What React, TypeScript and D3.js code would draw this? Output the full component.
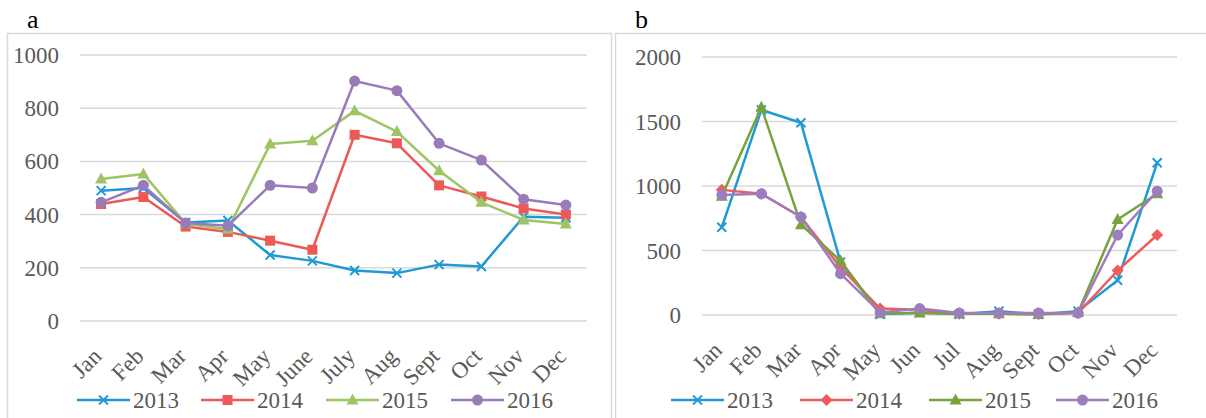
import React from 'react';
import * as d3 from 'd3';

const monthsA = ['Jan', 'Feb', 'Mar', 'Apr', 'May', 'June', 'July', 'Aug', 'Sept', 'Oct', 'Nov', 'Dec'];
const monthsB = ['Jan', 'Feb', 'Mar', 'Apr', 'May', 'Jun', 'Jul', 'Aug', 'Sept', 'Oct', 'Nov', 'Dec'];
const years = ['2013', '2014', '2015', '2016'];

const a2013 = [490, 500, 370, 378, 248, 226, 190, 180, 212, 205, 392, 388];
const a2014 = [440, 466, 355, 335, 302, 268, 700, 668, 510, 468, 423, 400];
const a2015 = [534, 553, 366, 345, 665, 678, 790, 712, 565, 446, 380, 365];
const a2016 = [446, 510, 368, 358, 510, 500, 902, 866, 668, 605, 458, 436];

const b2013 = [680, 1590, 1490, 410, 5, 20, 5, 30, 5, 30, 270, 1180];
const b2014 = [970, 940, 760, 370, 50, 40, 10, 10, 5, 15, 345, 620];
const b2015 = [920, 1610, 700, 420, 10, 15, 10, 10, 5, 20, 740, 940];
const b2016 = [930, 940, 760, 320, 20, 50, 15, 15, 15, 15, 620, 960];

const ticksA = [0, 200, 400, 600, 800, 1000];
const ticksB = [0, 500, 1000, 1500, 2000];

const colorsA = ['#1f9ad2', '#ec5a57', '#9dc564', '#9a7bba'];
const colorsB = ['#1f9ad2', '#ef5d5b', '#79a23f', '#9d7dbd'];

const font = '"Liberation Serif", "Times New Roman", serif';

type Shape = 'x' | 'square' | 'diamond' | 'triangle' | 'circle';

const Marker = ({ shape, x, y, color }: { shape: Shape; x: number; y: number; color: string }) => {
  if (shape === 'x') {
    const s = 4.5;
    return (
      <path d={`M${x - s},${y - s}L${x + s},${y + s}M${x - s},${y + s}L${x + s},${y - s}`}
        stroke={color} strokeWidth={2} fill="none" />
    );
  }
  if (shape === 'square') return <rect x={x - 5} y={y - 5} width={10} height={10} fill={color} />;
  if (shape === 'diamond') return <path d={`M${x},${y - 6}L${x + 6},${y}L${x},${y + 6}L${x - 6},${y}Z`} fill={color} />;
  if (shape === 'triangle') return <path d={`M${x},${y - 6.5}L${x + 6},${y + 4.5}L${x - 6},${y + 4.5}Z`} fill={color} />;
  return <circle cx={x} cy={y} r={5.5} fill={color} />;
};

type PanelProps = {
  left: number;
  label: string;
  months: string[];
  series: number[][];
  colors: string[];
  shapes: Shape[];
  ticks: number[];
  x0: number;
  x1: number;
  yTop: number;
  yBottom: number;
  legendX: number[];
};

const Panel = ({ left, label, months, series, colors, shapes, ticks, x0, x1, yTop, yBottom, legendX }: PanelProps) => {
  const x = d3.scalePoint<string>().domain(months).range([x0, x1]).padding(0.5);
  const y = d3.scaleLinear().domain([0, d3.max(ticks) as number]).range([yBottom, yTop]);
  const line = d3.line<number>().x((_, i) => x(months[i]) as number).y(d => y(d));

  return (
    <g>
      <text x={left + 20} y={28} fontFamily={font} fontSize={26} fill="#000">{label}</text>
      {ticks.map(t => (
        <g key={t}>
          <line x1={x0} x2={x1} y1={y(t)} y2={y(t)} stroke="#d9d9d9" strokeWidth={1.5} />
          <text x={x0 - 21} y={y(t)} dy="0.35em" textAnchor="end" fontFamily={font} fontSize={23} fill="#595959">{t}</text>
        </g>
      ))}
      {months.map(m => (
        <text key={m} transform={`translate(${(x(m) as number) - 4},${yBottom + 31}) rotate(-45)`}
          textAnchor="end" dy="0.35em" fontFamily={font} fontSize={23} fill="#595959">{m}</text>
      ))}
      {series.map((s, k) => (
        <g key={k}>
          <path d={line(s) || ''} fill="none" stroke={colors[k]} strokeWidth={2.5} strokeLinejoin="round" />
          {s.map((v, i) => (
            <Marker key={i} shape={shapes[k]} x={x(months[i]) as number} y={y(v)} color={colors[k]} />
          ))}
        </g>
      ))}
      {years.map((yr, k) => (
        <g key={yr}>
          <line x1={legendX[k]} x2={legendX[k] + 53} y1={400} y2={400} stroke={colors[k]} strokeWidth={2.5} />
          <Marker shape={shapes[k]} x={legendX[k] + 26.5} y={400} color={colors[k]} />
          <text x={legendX[k] + 56} y={400} dy="0.35em" fontFamily={font} fontSize={23} fill="#595959">{yr}</text>
        </g>
      ))}
    </g>
  );
};

export default function App() {
  return (
    <svg width={1206} height={418} style={{ position: 'fixed', left: 0, top: 0, background: '#fff' }}>
      <rect x={0} y={0} width={1206} height={418} fill="#fff" />
      <rect x={7.5} y={33.5} width={604} height={400} fill="none" stroke="#d9d9d9" strokeWidth={1.5} />
      <rect x={615.5} y={33.5} width={600} height={400} fill="none" stroke="#d9d9d9" strokeWidth={1.5} />
      <Panel left={7} label="a" months={monthsA} series={[a2013, a2014, a2015, a2016]}
        colors={colorsA} shapes={['x', 'square', 'triangle', 'circle']} ticks={ticksA}
        x0={80} x1={587} yTop={55} yBottom={321} legendX={[77, 201, 326, 451]} />
      <Panel left={615} label="b" months={monthsB} series={[b2013, b2014, b2015, b2016]}
        colors={colorsB} shapes={['x', 'diamond', 'triangle', 'circle']} ticks={ticksB}
        x0={702} x1={1177} yTop={57} yBottom={315} legendX={[671, 800, 929, 1056]} />
    </svg>
  );
}
